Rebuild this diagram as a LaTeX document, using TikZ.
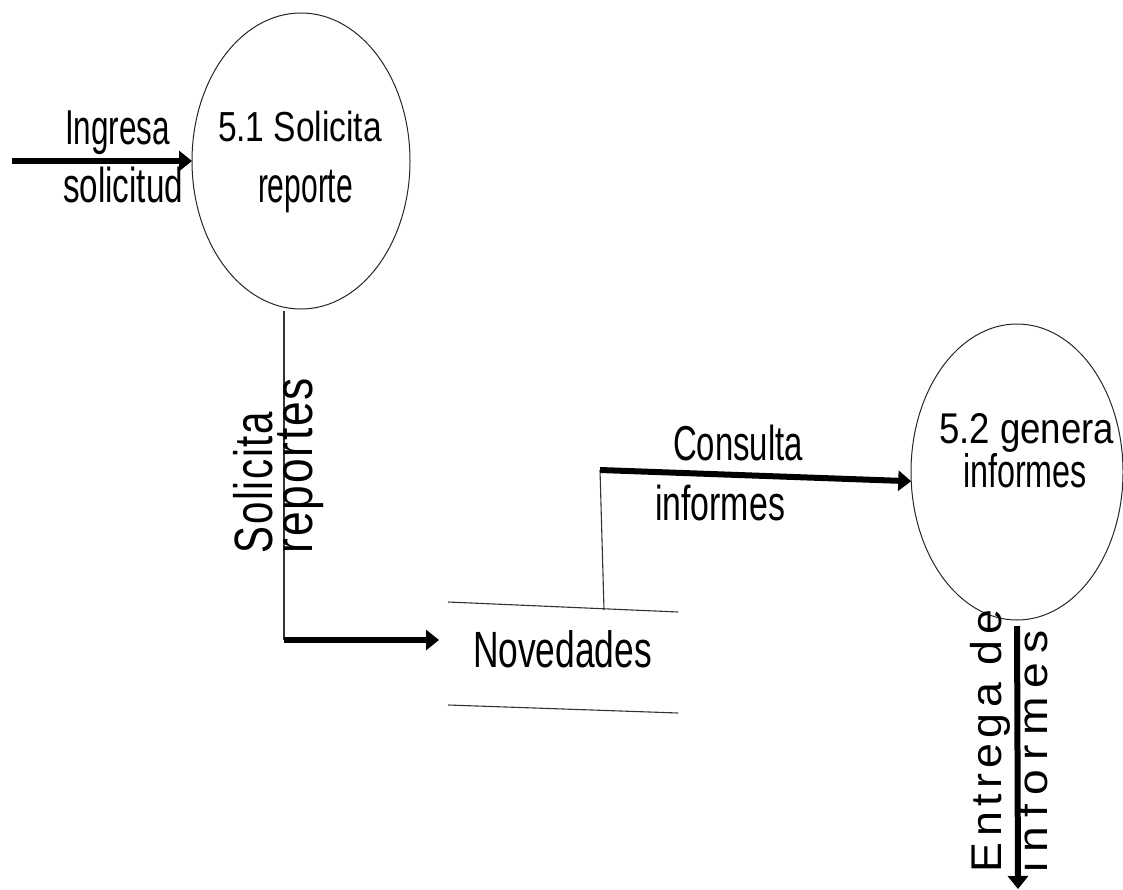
\documentclass[tikz,border=0pt]{standalone}
\usepackage{graphicx}
\usepackage{fontspec}
\setmainfont{Liberation Sans}
\usetikzlibrary{arrows.meta,shapes.geometric}
\newcommand{\fitw}[3]{{\fontsize{#1pt}{#1pt}\selectfont\resizebox{#2pt}{\height}{#3}}}
\tikzset{
  bubble/.style={ellipse, draw=black!85, line width=1pt, inner sep=0pt, outer sep=0pt, minimum height=296pt},
  lbl/.style={inner sep=0pt, outer sep=0pt},
  wire/.style={draw=black!80, line width=1.1pt},
  flow/.style={draw=black, line width=6pt, -{Triangle[length=13pt,width=20pt]}},
}
\begin{document}
\begin{tikzpicture}[x=1pt,y=-1pt]
\useasboundingbox (0,0) rectangle (1123,890);
% processes
\node[bubble, minimum width=218pt] (c1) at (301,161) {};
\node[bubble, minimum width=212pt] (c2) at (1017,472) {};
% process labels
\node[lbl, anchor=base west] (c1a) at (218,142) {\fitw{42}{164}{5.1 Solicita}};
\node[lbl, anchor=base west] (c1b) at (258,203) {\fitw{50}{95}{reporte}};
\node[lbl, anchor=base west] (c2a) at (939,443) {\fitw{43}{175}{5.2 genera}};
\node[lbl, anchor=base west] (c2b) at (963,487) {\fitw{47}{124}{informes}};
% data store
\draw[wire] (448,602) -- (678,612);
\draw[wire] (448,705) -- (678,713);
\node[lbl, anchor=base west] (nov) at (473,667) {\fitw{51}{179}{Novedades}};
% input flow
\coordinate (inA) at (12,161);
\draw[flow] (inA) -- (c1.west);
\node[lbl, anchor=base west] (fi1) at (65,145) {\fitw{49}{105}{Ingresa}};
\node[lbl, anchor=base west] (fi2) at (63,203) {\fitw{49}{120}{solicitud}};
% c1 to store
\coordinate (b1) at (284,640);
\coordinate (novIn) at (439,640);
\draw[wire, shorten <=2pt] (c1.south -| b1) -- (b1);
\draw[flow] (b1) -- (novIn);
\node[lbl, rotate=90, anchor=base west] (fs1) at (272,553) {\fitw{54}{141}{\addfontfeature{LetterSpace=4}Solicita}};
\node[lbl, rotate=90, anchor=base west] (fs2) at (312,553) {\fitw{54}{175}{\addfontfeature{LetterSpace=4}reportes}};
% store to c2
\coordinate (s1) at (604,610);
\coordinate (b2) at (600,470);
\draw[wire] (s1) -- (b2);
\draw[flow] (b2) -- (c2.185);
\node[lbl, anchor=base west] (fc1) at (673,460) {\fitw{49}{130}{Consulta}};
\node[lbl, anchor=base west] (fc2) at (655,520) {\fitw{49}{130}{informes}};
% output flow
\coordinate (outE) at (1018,889);
\draw[flow, shorten <=6pt] (c2.south) -- (outE);
\node[lbl, rotate=90, anchor=base west] (fe1) at (1001,872) {\fitw{43}{262}{\addfontfeature{LetterSpace=12}Entrega de}};
\node[lbl, rotate=90, anchor=base west] (fe2) at (1047,872) {\fitw{42}{242}{\addfontfeature{LetterSpace=20}informes}};
\end{tikzpicture}
\end{document}
